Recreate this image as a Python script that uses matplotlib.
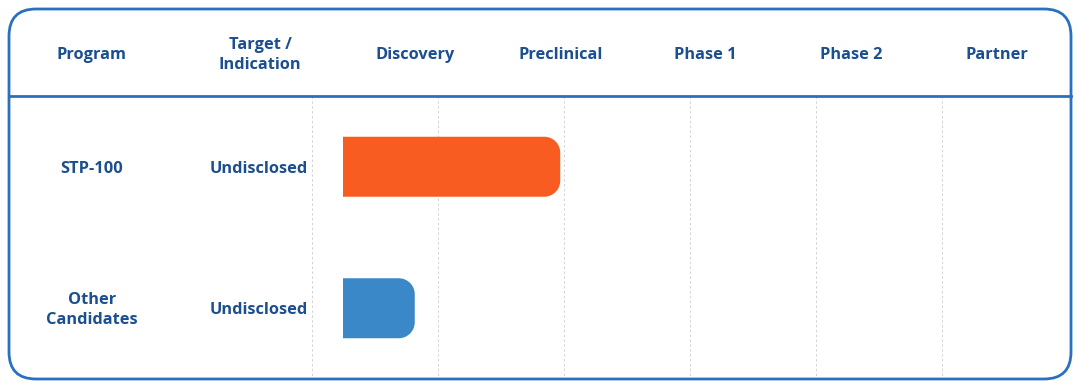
# pipeline chart: programs vs development stage
import matplotlib
matplotlib.use('Agg')
import matplotlib.pyplot as plt
from matplotlib.patches import FancyBboxPatch, PathPatch
from matplotlib.path import Path

stages = ['Discovery', 'Preclinical', 'Phase 1', 'Phase 2', 'Partner']
programs = ['STP-100', 'Other\nCandidates']
targets = ['Undisclosed', 'Undisclosed']
progress = [1.5, 0.5]          # in stage columns, measured from the start of Discovery
bar_colors = ['#F95C21', '#3A88C8']

text_color = '#1B4F8F'
frame_color = '#2A70C0'
grid_color = '#D2D2D2'

W, H = 1080, 389
fig = plt.figure(figsize=(W / 100, H / 100), dpi=100)
ax = fig.add_axes([0, 0, 1, 1])
ax.set_xlim(0, W)
ax.set_ylim(H, 0)
ax.axis('off')

font = dict(family=['Open Sans', 'DejaVu Sans'], weight='bold', size=11.8, color=text_color)
dy = 2  # nudge text down a bit, va='center' sits slightly high

# outer frame and header separator
left, top, right, bottom = 9, 9, 1071, 379
header_y = 96
ax.add_patch(FancyBboxPatch((left, top), right - left, bottom - top,
                            boxstyle='round,pad=0,rounding_size=27',
                            fc='none', ec=frame_color, lw=2.0, zorder=5))
ax.plot([left, right], [header_y, header_y], color=frame_color, lw=2.0, zorder=5)

# dashed grid lines in the body
for gx in range(312, 1000, 126):
    ax.plot([gx, gx], [header_y, bottom], color=grid_color, lw=0.7,
            ls=(0, (2.5, 2.5)), zorder=1)

# header labels
stage_x0, stage_w = 342, 145.5
ax.text(92, 53 + dy, 'Program', ha='center', va='center', **font)
ax.text(260, 53 + dy, 'Target /\nIndication', ha='center', va='center', linespacing=1.3, **font)
for i, s in enumerate(stages):
    ax.text(stage_x0 + (i + 0.5) * stage_w, 53 + dy, s, ha='center', va='center', **font)

# rows
row_top = header_y
row_h = (bottom - header_y) / len(programs)
bar_h = 60
r = 16
for i, (p, t, v, c) in enumerate(zip(programs, targets, progress, bar_colors)):
    cy = row_top + (i + 0.5) * row_h
    ax.text(92, cy + dy, p, ha='center', va='center', linespacing=1.3, **font)
    ax.text(259, cy + dy, t, ha='center', va='center', **font)

    x0 = stage_x0 + 1
    x1 = stage_x0 + v * stage_w
    y0, y1 = cy - bar_h / 2, cy + bar_h / 2
    k = 0.5523 * r
    verts = [(x0, y0), (x1 - r, y0),
             (x1 - r + k, y0), (x1, y0 + r - k), (x1, y0 + r),
             (x1, y1 - r),
             (x1, y1 - r + k), (x1 - r + k, y1), (x1 - r, y1),
             (x0, y1), (x0, y0)]
    codes = [Path.MOVETO, Path.LINETO,
             Path.CURVE4, Path.CURVE4, Path.CURVE4,
             Path.LINETO,
             Path.CURVE4, Path.CURVE4, Path.CURVE4,
             Path.LINETO, Path.CLOSEPOLY]
    ax.add_patch(PathPatch(Path(verts, codes), fc=c, ec='none', zorder=3))

fig.savefig('out.png', dpi=100, facecolor='white')
